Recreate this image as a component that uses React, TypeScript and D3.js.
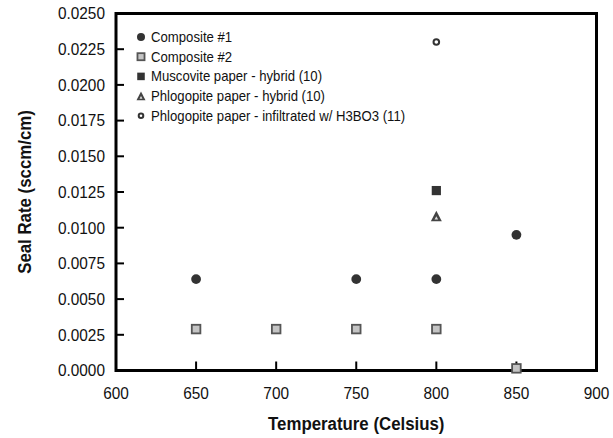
import React from "react";
import * as d3 from "d3";

const composite1Temps = [650, 750, 800, 850];
const composite1Rates = [0.0064, 0.0064, 0.0064, 0.0095];
const composite2Temps = [650, 700, 750, 800, 850];
const composite2Rates = [0.0029, 0.0029, 0.0029, 0.0029, 0.00015];
const muscoviteTemps = [800];
const muscoviteRates = [0.0126];
const phlogHybridTemps = [800];
const phlogHybridRates = [0.0108];
const phlogInfTemps = [800];
const phlogInfRates = [0.0230];

const legendLabels = [
  "Composite #1",
  "Composite #2",
  "Muscovite paper - hybrid (10)",
  "Phlogopite paper - hybrid (10)",
  "Phlogopite paper - infiltrated w/ H3BO3 (11)",
];
const xTicks = [600, 650, 700, 750, 800, 850, 900];
const yTicks = [0, 0.0025, 0.005, 0.0075, 0.01, 0.0125, 0.015, 0.0175, 0.02, 0.0225, 0.025];

const W = 613;
const H = 438;
const L = 116, R = 596.5, T = 13.5, B = 370.5;
const FONT = "'Liberation Sans', Arial, sans-serif";

const zip = (xs: number[], ys: number[]) => xs.map((x, i) => [x, ys[i]] as [number, number]);

function Marker({ kind, x, y, s = 1 }: { kind: number; x: number; y: number; s?: number }) {
  if (kind === 0) return <circle cx={x} cy={y} r={4.9 * s} fill="#333" />;
  if (kind === 1)
    return <rect x={x - 4.3 * s} y={y - 4.3 * s} width={8.6 * s} height={8.6 * s} fill="#c4c4c4" stroke="#555" strokeWidth={1.8} />;
  if (kind === 2) return <rect x={x - 4.6 * s} y={y - 4.6 * s} width={9.2 * s} height={9.2 * s} fill="#333" />;
  if (kind === 3) {
    const h = 10 * s, w = 11 * s;
    const p = `M${x},${y - h / 2 - 0.5} L${x + w / 2},${y + h / 2} L${x - w / 2},${y + h / 2} Z`;
    const hi = 3.6 * s;
    const pi = `M${x},${y} L${x + hi / 2},${y + hi * 0.9} L${x - hi / 2},${y + hi * 0.9} Z`;
    return (
      <g>
        <path d={p} fill="#444" />
        <path d={pi} fill="#ddd" />
      </g>
    );
  }
  return <circle cx={x} cy={y} r={2.8 * s} fill="#fff" stroke="#333" strokeWidth={2} />;
}

export default function App() {
  const x = d3.scaleLinear().domain([600, 900]).range([L, R]);
  const y = d3.scaleLinear().domain([0, 0.025]).range([B, T]);
  const fmt = d3.format(".4f");

  const series = [
    zip(composite1Temps, composite1Rates),
    zip(composite2Temps, composite2Rates),
    zip(muscoviteTemps, muscoviteRates),
    zip(phlogHybridTemps, phlogHybridRates),
    zip(phlogInfTemps, phlogInfRates),
  ];

  return (
    <svg width={W} height={H} style={{ position: "absolute", left: 0, top: 0, background: "#fff" }}>
      <rect x={0} y={0} width={W} height={H} fill="#fff" />
      {yTicks.map((t) => (
        <g key={"y" + t}>
          {t > 0 && t < 0.025 && <line x1={L} x2={L + 8} y1={y(t)} y2={y(t)} stroke="#000" strokeWidth={2} />}
          <text transform={`translate(105,${y(t) + 5.8}) scale(0.95,1)`} textAnchor="end" fontFamily={FONT}
            fontSize={16.2} fill="#111">
            {fmt(t)}
          </text>
        </g>
      ))}
      {xTicks.map((t) => (
        <g key={"x" + t}>
          {t > 600 && t < 900 && <line x1={x(t)} x2={x(t)} y1={B} y2={B - 9} stroke="#000" strokeWidth={2} />}
          <text transform={`translate(${x(t)},398.5) scale(0.95,1)`} textAnchor="middle" fontFamily={FONT}
            fontSize={16.2} fill="#111">
            {t}
          </text>
        </g>
      ))}
      <rect x={L} y={T} width={R - L} height={B - T} fill="none" stroke="#000" strokeWidth={3} />
      {series.map((pts, k) =>
        pts.map(([tx, ty], i) => <Marker key={k + "-" + i} kind={k} x={x(tx)} y={y(ty)} />)
      )}
      {legendLabels.map((lab, i) => (
        <g key={lab}>
          <Marker kind={i} x={141} y={37 + i * 19.7} s={0.82} />
          <text transform={`translate(151,${37 + i * 19.7 + 5}) scale(0.94,1)`} fontFamily={FONT} fontSize={14}
            fill="#111">
            {lab}
          </text>
        </g>
      ))}
      <text transform={`translate(${(L + R) / 2},430) scale(0.91,1)`} textAnchor="middle" fontFamily={FONT}
        fontWeight="bold" fontSize={18.5} fill="#111">
        Temperature (Celsius)
      </text>
      <text transform={`translate(31,${(T + B) / 2}) rotate(-90) scale(0.91,1)`} textAnchor="middle"
        fontFamily={FONT} fontWeight="bold" fontSize={18.5} fill="#111">
        Seal Rate (sccm/cm)
      </text>
    </svg>
  );
}
